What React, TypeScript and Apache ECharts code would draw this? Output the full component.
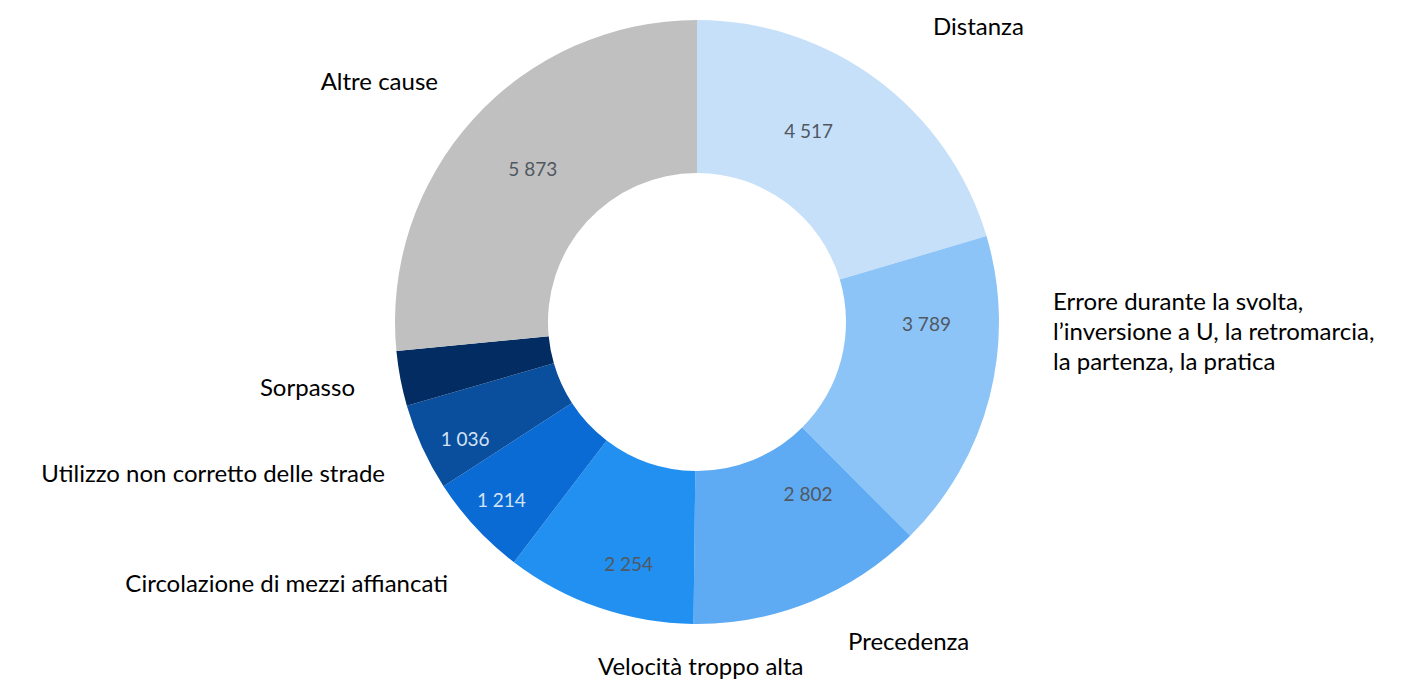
import React, { useEffect, useRef } from "react";
import * as echarts from "echarts";

// Data
const categories = [
  "Distanza",
  "Errore durante la svolta,\nl\u2019inversione a U, la retromarcia,\nla partenza, la pratica",
  "Precedenza",
  "Velocità troppo alta",
  "Circolazione di mezzi affiancati",
  "Utilizzo non corretto delle strade",
  "Sorpasso",
  "Altre cause",
];
const values = [4517, 3789, 2802, 2254, 1214, 1036, 650, 5873];
const showValue = [true, true, true, true, true, true, false, true];

// Styles / layout (not data)
const colors = ["#c6e0fa", "#8cc4f7", "#5eabf4", "#2190f1", "#0a6bd4", "#0a4f9e", "#032d62", "#c0c0c0"];
const valueColors = ["#515861", "#515861", "#515861", "#515861", "#d3e3f5", "#d3e3f5", "#ffffff", "#515861"];
const valueShift: [number, number][] = [
  [-25, -8], [8, -55], [25, -40], [6, 25], [-28, 22], [-24, 22], [0, 0], [5, 0],
];
const namePos: { x: number; y: number; align: "left" | "right" | "center" }[] = [
  { x: 933, y: 25, align: "left" },
  { x: 1053, y: 330, align: "left" },
  { x: 848, y: 640, align: "left" },
  { x: 598, y: 665, align: "left" },
  { x: 448, y: 582, align: "right" },
  { x: 385, y: 472, align: "right" },
  { x: 355, y: 386, align: "right" },
  { x: 438, y: 80, align: "right" },
];

const fmt = (v: number) => String(v).replace(/\B(?=(\d{3})+(?!\d))/g, " ");

export default function App() {
  const ref = useRef<HTMLDivElement>(null);
  useEffect(() => {
    if (!ref.current) return;
    const chart = echarts.init(ref.current, null, { renderer: "svg" });
    const center = [697, 322];
    const radius = [149, 302];
    chart.setOption({
      animation: false,
      backgroundColor: "#ffffff",
      series: [
        {
          type: "pie",
          center,
          radius,
          startAngle: 90,
          clockwise: true,
          silent: true,
          itemStyle: { borderWidth: 0 },
          label: {
            show: true,
            position: "inside",
            fontFamily: "Lato",
            fontSize: 19,
            formatter: (p: any) => fmt(p.value),
          },
          labelLine: { show: false },
          labelLayout: (p: any) => ({
            dx: valueShift[p.dataIndex][0],
            dy: valueShift[p.dataIndex][1],
          }),
          data: categories.map((name, i) => ({
            name,
            value: values[i],
            itemStyle: { color: colors[i] },
            label: { show: showValue[i], color: valueColors[i] },
          })),
        },
        {
          type: "pie",
          center,
          radius,
          startAngle: 90,
          clockwise: true,
          silent: true,
          itemStyle: { color: "rgba(0,0,0,0)", borderWidth: 0 },
          label: {
            show: true,
            position: "outside",
            fontFamily: "Lato",
            fontSize: 24,
            lineHeight: 30,
            color: "#000000",
            formatter: "{b}",
          },
          labelLine: { show: false },
          labelLayout: (p: any) => {
            const pos = namePos[p.dataIndex];
            return { x: pos.x, y: pos.y, align: pos.align, verticalAlign: "middle" };
          },
          data: categories.map((name, i) => ({ name, value: values[i] })),
        },
      ],
    });
    return () => chart.dispose();
  }, []);
  return (
    <div
      ref={ref}
      style={{ position: "fixed", left: 0, top: 0, width: 1416, height: 681 }}
    />
  );
}
